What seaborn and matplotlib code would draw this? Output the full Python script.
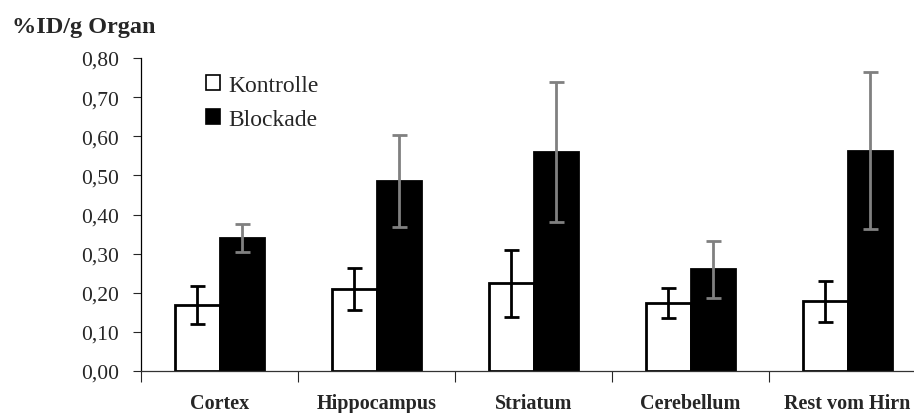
import numpy as np
import pandas as pd
import matplotlib
matplotlib.use('Agg')
import matplotlib.pyplot as plt
import seaborn as sns

# values
regions = ['Cortex', 'Hippocampus', 'Striatum', 'Cerebellum', 'Rest vom Hirn']
kontrolle = [0.169, 0.209, 0.224, 0.173, 0.178]
kontrolle_err = [0.048, 0.054, 0.086, 0.038, 0.053]
blockade = [0.340, 0.486, 0.560, 0.260, 0.563]
blockade_err = [0.035, 0.117, 0.178, 0.073, 0.200]
groups = ['Kontrolle', 'Blockade']

df = pd.DataFrame({
    'region': regions * 2,
    'group': ['Kontrolle'] * 5 + ['Blockade'] * 5,
    'value': kontrolle + blockade,
})

sns.set_style('white')
plt.rcParams['font.family'] = ['Liberation Serif', 'DejaVu Serif']

fig = plt.figure(figsize=(9.14, 4.14), dpi=100)
ax = fig.add_axes([141 / 914, 1 - 372 / 414, 785 / 914, 313 / 414])

sns.barplot(data=df, x='region', y='value', hue='group', hue_order=groups,
            palette=['white', 'black'], edgecolor='black', linewidth=2,
            width=0.57, gap=0, errorbar=None, ax=ax)

# error bars
errs = [kontrolle_err, blockade_err]
vals = [kontrolle, blockade]
ecolors = ['black', '#808080']
for cont, v, e, c in zip(ax.containers, vals, errs, ecolors):
    xs = [b.get_x() + b.get_width() / 2 for b in cont]
    ax.errorbar(xs, v, yerr=e, fmt='none', ecolor=c, elinewidth=2,
                capsize=5.4, capthick=2, zorder=5)

ax.set_ylim(0, 0.8)
ax.set_xlim(-0.5, 4.5)
ax.set_yticks(np.arange(0, 0.81, 0.1))
ax.set_yticklabels([f'{t:.2f}'.replace('.', ',') for t in np.arange(0, 0.81, 0.1)],
                   fontsize=15.5)
ax.set_xlabel('')
ax.set_ylabel('')
ax.set_xticks(range(5))
ax.set_xticklabels(regions, fontsize=14.5, fontweight='bold')
ax.set_xticks(np.arange(-0.5, 5, 1), minor=True)
ax.tick_params(axis='x', which='major', length=0, pad=16)
ax.tick_params(axis='x', which='minor', length=8, width=0.8, direction='out', bottom=True)
ax.tick_params(axis='y', length=6, width=0.8, direction='out', left=True, pad=10)

for s in ['top', 'right']:
    ax.spines[s].set_visible(False)
ax.spines['left'].set_linewidth(0.9)
ax.spines['bottom'].set_linewidth(0.9)
ax.spines['left'].set_color('black')
ax.spines['bottom'].set_color('#333333')

fig.text(12 / 914, 1 - 27 / 414, '%ID/g Organ', fontsize=17.5, fontweight='bold',
         va='center', ha='left')

ax.legend(loc='upper left', bbox_to_anchor=(206 / 914, 1 - 76 / 414),
          bbox_transform=fig.transFigure, frameon=False, fontsize=17,
          handlelength=0.6, handleheight=0.6, handletextpad=0.35,
          labelspacing=0.55, borderaxespad=0, borderpad=0)
for h in ax.get_legend().legend_handles:
    h.set_edgecolor('black')
    h.set_linewidth(1.2)

fig.savefig('out.png', dpi=100)
